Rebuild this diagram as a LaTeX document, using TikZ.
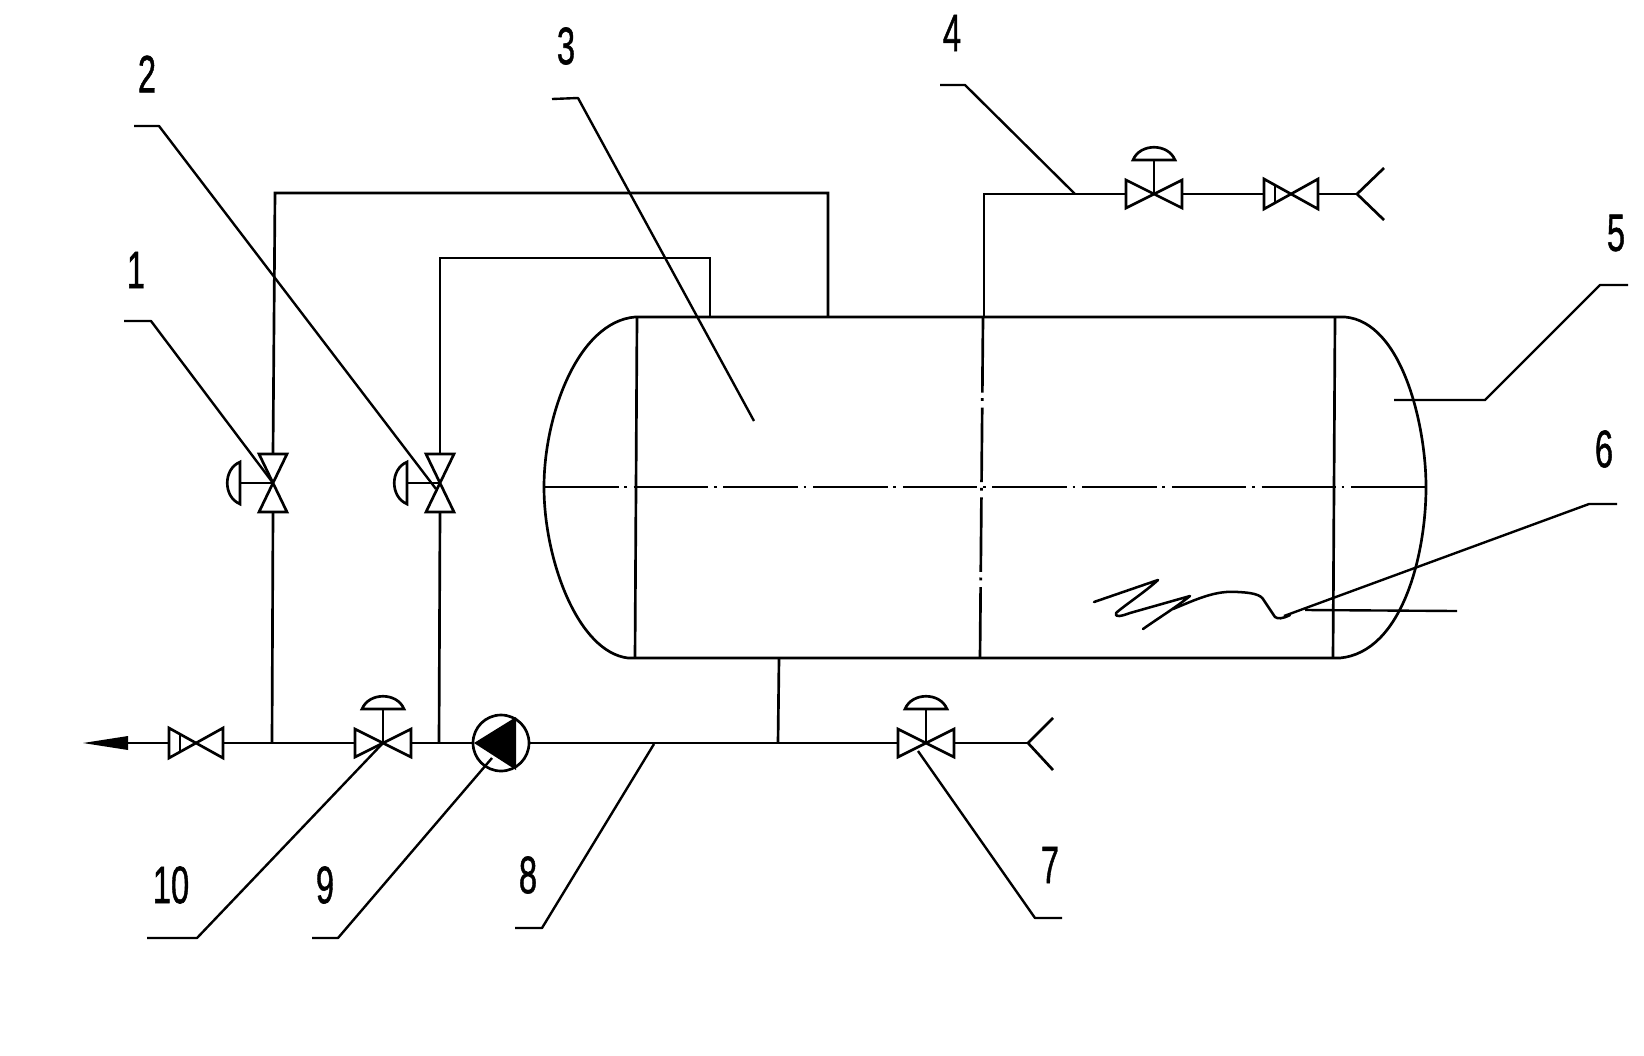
\documentclass[tikz,border=0pt]{standalone}
\usepackage{fontspec}
\setmainfont{Liberation Sans}[BoldFont={Liberation Sans},BoldFeatures={FakeBold=1.2}]
\tikzset{
  x=0.05cm,y=-0.05cm,
  line/.style={line width=3.8pt,line join=miter,black},
  leader/.style={line width=3.4pt,black,line join=bevel},
  squiggle/.style={line width=3.6pt,black,line join=round,line cap=round},
  cline/.style={line width=3.8pt,black,dash pattern=on 106pt off 8pt on 4pt off 9.6pt},
  num/.style={font=\fontsize{75}{80}\selectfont\bfseries,xscale=0.62,inner sep=0pt,text=black},
  gatevalve/.pic={\draw[line] (-28,-14) -- (28,14) -- (28,-14) -- (-28,14) -- cycle;
    \draw[line] (0,0) -- (0,-34);
    \draw[line] (-21,-34) .. controls (-14,-51) and (14,-51) .. (21,-34) -- cycle;},
  checkvalve/.pic={\draw[line] (-27,-15) -- (27,15) -- (27,-15) -- (-27,15) -- cycle;
    \draw[line] (-16,-9) -- (-16,9);},
  sidevalve/.pic={\draw[line] (-14,-29) -- (14,29) -- (-14,29) -- (14,-29) -- cycle;
    \draw[line] (0,0) -- (-33,0);
    \draw[line] (-33,-21) .. controls (-50,-14) and (-50,14) .. (-33,21) -- cycle;},
}
\begin{document}
\begin{tikzpicture}
\useasboundingbox (0,0) rectangle (1644,1055);
\fill[white] (0,0) rectangle (1644,1055);

% named points
\coordinate (vA) at (273,483);
\coordinate (vB) at (440,483);
\coordinate (vT) at (1154,194);
\coordinate (cT) at (1291,194);
\coordinate (cB) at (196,743);
\coordinate (v10) at (383,743);
\coordinate (v7) at (926,743);
\coordinate (pump) at (501,743);
\coordinate (yT) at (1357,194);
\coordinate (yB) at (1028,743);
\coordinate (arrowbase) at (128,743);

% tank
\draw[line] (635,317) -- (1345,317) .. controls (1402,322) and (1426,425) .. (1426,487)
  .. controls (1426,555) and (1402,652) .. (1340,658) -- (628,658)
  .. controls (578,652) and (544,560) .. (544,487)
  .. controls (544,415) and (578,322) .. (635,317) -- cycle;
\draw[line] (637,317) -- (635,658);
\draw[line] (1335,317) -- (1333,658);
\draw[cline] (544,487) -- (1426,487);

% pipes
\draw[line] (vA) ++(0,-30) -- (275,193) -- (828,193) -- (828,317);
\draw[line] (vB) ++(0,-30) -- (440,258) -- (710,258) -- (710,317);
\draw[line] (273,512) -- (272,743);
\draw[line] (440,512) -- (439,743);
\draw[line] (984,317) -- (984,194) -- (1126,194);
\draw[cline] (983,318) -- (980,658);
\draw[line] (1183,194) -- (1263,194);
\draw[line] (1319,194) -- (yT);
\draw[line] (1384,168) -- (yT) -- (1384,220);
\draw[line] (arrowbase) -- (169,743);
\draw[line] (223,743) -- (356,743);
\draw[line] (410,743) -- (473,743);
\draw[line] (529,743) -- (898,743);
\draw[line] (954,743) -- (yB);
\draw[line] (1053,718) -- (yB) -- (1053,770);
\draw[line] (779,658) -- (778,743);
\fill[black] (83,743) -- (128,736) -- (128,750) -- cycle;

% valves
\pic at (vA) {sidevalve};
\pic at (vB) {sidevalve};
\pic at (vT) {gatevalve};
\pic at (cT) {checkvalve};
\pic at (cB) {checkvalve};
\pic at (v10) {gatevalve};
\pic at (v7) {gatevalve};

% pump
\draw[line] (pump) circle (28);
\fill[black] (474,743) -- (516,717) -- (516,770) -- cycle;

% leaders
\draw[leader] (124,321) -- (151,321) -- (vA);
\draw[leader] (134,126) -- (159,126) -- (436,489);
\draw[leader] (552,99) -- (578,98) -- (754,421);
\draw[leader] (940,85) -- (965,85) -- (1075,194);
\draw[leader] (1628,285) -- (1600,285) -- (1485,400) -- (1394,400);
\draw[leader] (1617,504) -- (1589,504) -- (1284,616);
\draw[leader] (1305,610) -- (1457,611);
\draw[squiggle] (1094,602) -- (1158,580) .. controls (1145,592) and (1125,605) .. (1116,613)
  .. controls (1114,618) and (1122,616) .. (1130,613) -- (1190,596) .. controls (1175,608) and (1160,617) .. (1143,629);
\draw[squiggle] (1173,609) .. controls (1195,600) and (1215,590) .. (1238,592)
  .. controls (1258,593) and (1262,596) .. (1265,602) -- (1275,617)
  .. controls (1278,619) and (1282,619) .. (1290,615);
\draw[leader] (918,751) -- (1035,918) -- (1062,918);
\draw[leader] (654,744) -- (542,928) -- (515,928);
\draw[leader] (492,758) -- (338,938) -- (312,938);
\draw[leader] (v10) -- (197,938) -- (147,938);

% labels
\node[num] (n1) at (136,270) {1};
\node[num] (n2) at (147,74) {2};
\node[num] (n3) at (566,46) {3};
\node[num] (n4) at (952,33) {4};
\node[num] (n5) at (1616,233) {5};
\node[num] (n6) at (1604,449) {6};
\node[num] (n7) at (1050,865) {7};
\node[num] (n8) at (528,875) {8};
\node[num] (n9) at (325,885) {9};
\node[num] (n10) at (171,885) {10};
\end{tikzpicture}
\end{document}
